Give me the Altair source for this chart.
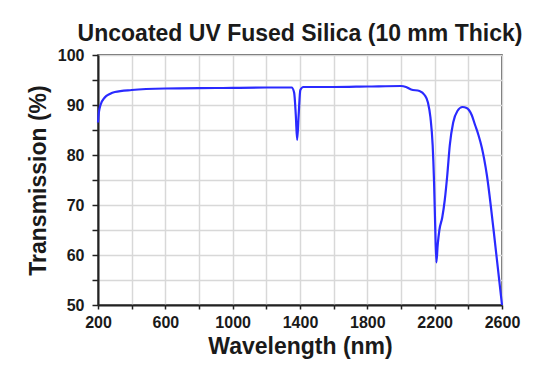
import altair as alt
import pandas as pd

wavelength = [200, 205, 215, 240, 270, 300, 400, 600, 900, 1200, 1350, 1365, 1375, 1383, 1392, 1402, 1420,
              1600, 1800, 2000, 2030, 2060, 2110, 2140, 2160, 2175, 2188, 2196, 2203, 2210, 2218, 2228,
              2245, 2260, 2275, 2290, 2310, 2335, 2365, 2390, 2420, 2440, 2460, 2480, 2510, 2550, 2600]
transmission = [86.5, 88.5, 90.0, 91.5, 92.2, 92.6, 93.0, 93.3, 93.4, 93.5, 93.5, 92.5, 88.0, 83.0, 88.0, 93.0, 93.6,
                93.6, 93.7, 93.8, 93.6, 93.1, 92.8, 92.0, 90.5, 87.5, 82.0, 75.0, 66.0, 58.5, 62.0, 65.0,
                67.5, 71.0, 76.0, 82.0, 86.5, 88.8, 89.6, 89.4, 88.0, 86.0, 84.0, 81.5, 76.0, 65.0, 50.0]

x_ticks = list(range(200, 2601, 200))
y_ticks = list(range(50, 101, 5))

df = pd.DataFrame({"wl": wavelength, "t": transmission})

FONT = "Liberation Sans"

chart = alt.Chart(df).mark_line(color="#2a2aff", strokeWidth=2.2, interpolate="monotone").encode(
    x=alt.X("wl:Q", scale=alt.Scale(domain=[200, 2600], nice=False, zero=False),
            axis=alt.Axis(values=x_ticks, title="Wavelength (nm)",
                          labelExpr="datum.value % 400 == 200 ? datum.label : ''",
                          format="d", labelFlush=False, labelPadding=5, tickSize=4,
                          titlePadding=5)),
    y=alt.Y("t:Q", scale=alt.Scale(domain=[50, 100], nice=False, zero=False),
            axis=alt.Axis(values=y_ticks, title="Transmission (%)",
                          labelExpr="datum.value % 10 == 0 ? datum.label : ''",
                          labelFlush=False, tickSize=6, labelPadding=8, titlePadding=7)),
).properties(
    width=404, height=250,
    autosize=alt.AutoSizeParams(type="none"),
    padding={"left": 90, "top": 47, "right": 30, "bottom": 65},
    title=alt.Title("Uncoated UV Fused Silica (10 mm Thick)", font=FONT, fontSize=23,
                    fontWeight="bold", color="#1a1a1a", offset=12, anchor="middle",
                    frame="group", dy=11),
).configure_axis(
    labelFont=FONT, labelFontSize=16, labelFontWeight="bold", labelColor="#1a1a1a",
    titleFont=FONT, titleFontSize=23, titleFontWeight="bold", titleColor="#1a1a1a",
    gridColor="#d8d8d8", gridWidth=1.5, domainColor="#222222", domainWidth=2,
    tickColor="#222222", tickWidth=1.5,
).configure_view(
    stroke="#333333", strokeWidth=1.5
)

chart.save("out.html", embed_options={"renderer": "svg", "actions": False})
